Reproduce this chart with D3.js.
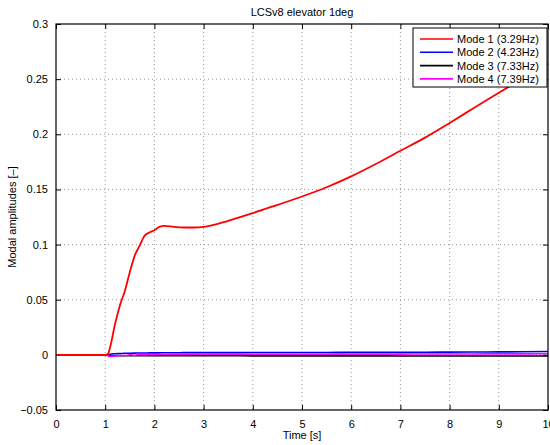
<!DOCTYPE html>
<html>
<head>
<meta charset="utf-8">
<script src="https://cdn.jsdelivr.net/npm/d3@7"></script>
<style>
  body { margin: 0; background: #fff; }
  text { font-family: "Liberation Sans", Arial, sans-serif; }
</style>
</head>
<body>
<div id="chart-area"></div>
<script>
// data
const times = [0, 1.0, 1.05, 1.1, 1.2, 1.3, 1.4, 1.5, 1.6, 1.7, 1.8, 1.9, 2.0, 2.1, 2.2, 2.4, 2.6, 2.8, 3.0,
  3.5, 4, 4.5, 5, 5.5, 6, 6.5, 7, 7.5, 8, 8.5, 9, 9.5, 10]
const mode1 = [0, 0, 0.0005, 0.007, 0.028, 0.045, 0.058, 0.075, 0.09, 0.099, 0.108, 0.111, 0.113, 0.116, 0.117,
  0.116, 0.1155, 0.1155, 0.116, 0.1215, 0.1285, 0.136, 0.1436, 0.152, 0.1618, 0.173, 0.185, 0.197, 0.2103,
  0.224, 0.2376, 0.251, 0.264]
const mode2 = [0, 0, 0.0002, 0.0006, 0.001, 0.0012, 0.0014, 0.0015, 0.0016, 0.0017, 0.0017, 0.0018, 0.0018,
  0.0018, 0.0019, 0.0019, 0.002, 0.002, 0.002, 0.002, 0.0021, 0.0021, 0.0022, 0.0022, 0.0023, 0.0023, 0.0024,
  0.0024, 0.0025, 0.0026, 0.0027, 0.0028, 0.003]
const mode3 = [0, 0, -0.0002, -0.0006, -0.0008, -0.0008, -0.0008, -0.0008, -0.0008, -0.0008, -0.0008, -0.0008,
  -0.0008, -0.0008, -0.0008, -0.0008, -0.0008, -0.0008, -0.0008, -0.0008, -0.0009, -0.0009, -0.0009, -0.0009,
  -0.0009, -0.0009, -0.001, -0.001, -0.001, -0.001, -0.001, -0.001, -0.001]
const mode4 = [0, 0, -0.0008, -0.0015, -0.001, -0.0004, -0.0007, 0, -0.0003, 0.0002, 0, 0.0003, 0.0002, 0.0004,
  0.0003, 0.0004, 0.0004, 0.0005, 0.0005, 0.0005, 0.0005, 0.0006, 0.0006, 0.0006, 0.0007, 0.0007, 0.0007,
  0.0008, 0.0008, 0.0008, 0.0009, 0.0009, 0.001]
const seriesNames = ["Mode 1 (3.29Hz)", "Mode 2 (4.23Hz)", "Mode 3 (7.33Hz)", "Mode 4 (7.39Hz)"]
const seriesColors = ["#ff0000", "#0000ff", "#000000", "#ff00ff"]
const xTicks = [0, 1, 2, 3, 4, 5, 6, 7, 8, 9, 10]
const yTicks = [-0.05, 0, 0.05, 0.1, 0.15, 0.2, 0.25, 0.3]

const MARGIN = { LEFT: 56, RIGHT: 2, TOP: 24, BOTTOM: 35 }
const WIDTH = 550 - MARGIN.LEFT - MARGIN.RIGHT
const HEIGHT = 445 - MARGIN.TOP - MARGIN.BOTTOM

const svg = d3.select("#chart-area").append("svg")
  .attr("width", 550)
  .attr("height", 445)

const g = svg.append("g")
  .attr("transform", `translate(${MARGIN.LEFT}, ${MARGIN.TOP})`)

// scales
const x = d3.scaleLinear().domain([0, 10]).range([0, WIDTH])
const y = d3.scaleLinear().domain([-0.05, 0.3]).range([HEIGHT, 0])

// grid
g.append("g").selectAll("line").data(xTicks.slice(1, -1)).join("line")
  .attr("x1", d => x(d)).attr("x2", d => x(d))
  .attr("y1", 0).attr("y2", HEIGHT)
  .attr("stroke", "#999").attr("stroke-dasharray", "1,3")
g.append("g").selectAll("line").data(yTicks.slice(1, -1)).join("line")
  .attr("y1", d => y(d)).attr("y2", d => y(d))
  .attr("x1", 0).attr("x2", WIDTH)
  .attr("stroke", "#999").attr("stroke-dasharray", "1,3")

// axes (MATLAB style: inward ticks on all sides)
const fmtY = d => d < 0 ? "\u2212" + Math.abs(d) : String(d)
g.append("g").attr("transform", `translate(0, ${HEIGHT})`)
  .call(d3.axisBottom(x).tickValues(xTicks).tickSizeInner(-5).tickSizeOuter(0).tickPadding(10))
g.append("g")
  .call(d3.axisTop(x).tickValues(xTicks).tickSizeInner(-5).tickSizeOuter(0).tickFormat(""))
g.append("g")
  .call(d3.axisLeft(y).tickValues(yTicks).tickSizeInner(-5).tickSizeOuter(0).tickPadding(8).tickFormat(fmtY))
g.append("g").attr("transform", `translate(${WIDTH}, 0)`)
  .call(d3.axisRight(y).tickValues(yTicks).tickSizeInner(-5).tickSizeOuter(0).tickFormat(""))

svg.selectAll(".domain").remove()
svg.selectAll(".tick line").attr("stroke", "#000")
svg.selectAll(".tick text").attr("font-size", "11px").attr("fill", "#000")
  .style("font-family", "'Liberation Sans', Arial, sans-serif")

// lines
const line = d3.line()
  .x((d, i) => x(times[i]))
  .y(d => y(d))
  .curve(d3.curveMonotoneX)

const allSeries = [mode1, mode2, mode3, mode4]
const drawOrder = [1, 2, 3, 0]
drawOrder.forEach(k => {
  g.append("path")
    .attr("fill", "none")
    .attr("stroke", seriesColors[k])
    .attr("stroke-width", k === 0 ? 1.8 : 1.6)
    .attr("stroke-linejoin", "round")
    .attr("d", line(allSeries[k]))
})

// box
g.append("rect")
  .attr("width", WIDTH).attr("height", HEIGHT)
  .attr("fill", "none").attr("stroke", "#000").attr("stroke-width", 1.2)

// title and labels
svg.append("text")
  .attr("x", MARGIN.LEFT + WIDTH / 2).attr("y", 16)
  .attr("text-anchor", "middle").attr("font-size", "11px")
  .text("LCSv8 elevator 1deg")
svg.append("text")
  .attr("x", MARGIN.LEFT + WIDTH / 2).attr("y", 439)
  .attr("text-anchor", "middle").attr("font-size", "11px")
  .text("Time [s]")
svg.append("text")
  .attr("transform", `translate(16, ${MARGIN.TOP + HEIGHT / 2}) rotate(-90)`)
  .attr("text-anchor", "middle").attr("font-size", "11px")
  .text("Modal amplitudes [\u2013]")

// legend
const legend = svg.append("g").attr("transform", "translate(413, 28)")
legend.append("rect")
  .attr("width", 134).attr("height", 59)
  .attr("fill", "#fff").attr("stroke", "#000").attr("stroke-width", 1)
seriesNames.forEach((name, i) => {
  const ly = 11 + i * 13.3
  legend.append("line")
    .attr("x1", 7).attr("x2", 40).attr("y1", ly).attr("y2", ly)
    .attr("stroke", seriesColors[i]).attr("stroke-width", 1.6)
  legend.append("text")
    .attr("x", 44).attr("y", ly + 4)
    .attr("font-size", "11px")
    .text(name)
})
</script>
</body>
</html>
